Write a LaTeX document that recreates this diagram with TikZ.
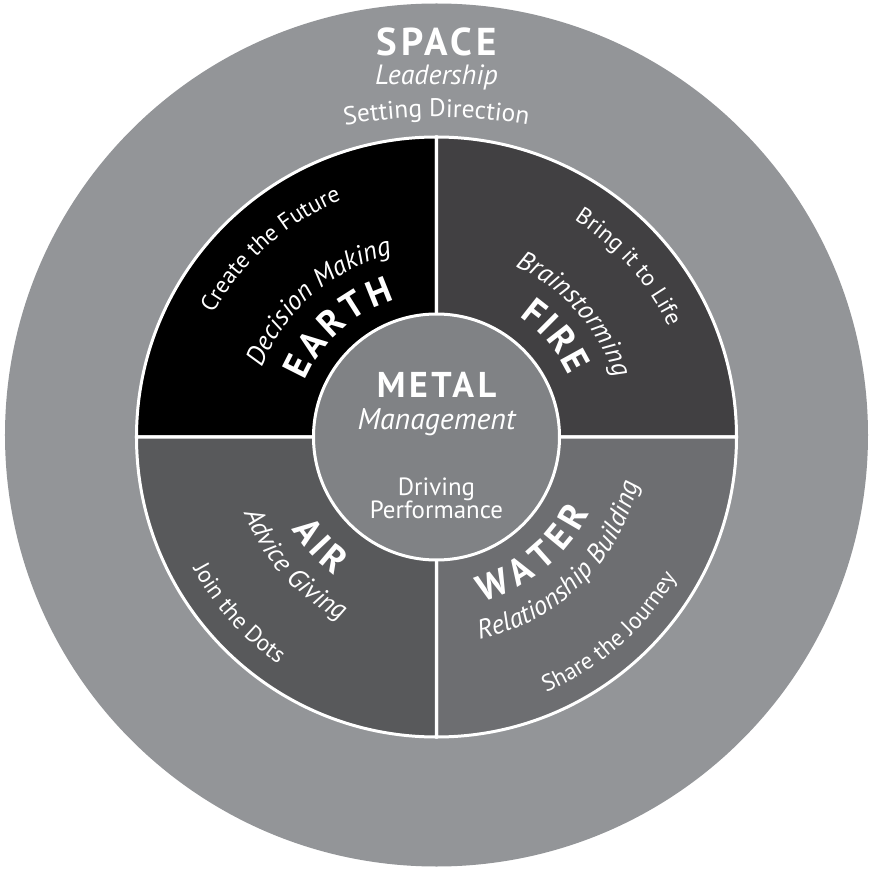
\documentclass[tikz,border=0pt]{standalone}
\usepackage{fontspec}
\setmainfont{PT Sans}
\usetikzlibrary{decorations.text}
\definecolor{spacegray}{HTML}{939598}
\definecolor{earthblk}{HTML}{000000}
\definecolor{firegray}{HTML}{414042}
\definecolor{airgray}{HTML}{58595B}
\definecolor{watergray}{HTML}{6D6E71}
\definecolor{metalgray}{HTML}{808285}
\newcommand\ttlfont{\fontsize{37}{37}\selectfont\bfseries}
\newcommand\subfont{\fontsize{27}{27}\selectfont\itshape}
\newcommand\tagfont{\fontsize{23.5}{23.5}\selectfont}
\begin{document}
\begin{tikzpicture}[x=1bp,y=1bp,
  ttl/.style={decorate,decoration={text along path,text color=white,text align={fit to path},text={|\ttlfont|#1}}},
  sub/.style={decorate,decoration={text along path,text color=white,text align=center,text={|\subfont|#1}}},
  tag/.style={decorate,decoration={text along path,text color=white,text align=center,text={|\tagfont|#1}}},
  lbl/.style={text=white,anchor=base,inner sep=0pt},
  sector/.style={draw=white,line width=3bp}]
\fill[white] (-436.5,-433) rectangle (434.5,437);
\useasboundingbox (-436.5,-433) rectangle (434.5,437);
\fill[spacegray] (0,2) circle[radius=431.5];
\filldraw[sector,fill=earthblk] (0,0) -- (180:300) arc[start angle=180,end angle=90,radius=300] -- cycle;
\filldraw[sector,fill=firegray] (0,0) -- (90:300) arc[start angle=90,end angle=0,radius=300] -- cycle;
\filldraw[sector,fill=watergray] (0,0) -- (0:300) arc[start angle=0,end angle=-90,radius=300] -- cycle;
\filldraw[sector,fill=airgray] (0,0) -- (270:300) arc[start angle=270,end angle=180,radius=300] -- cycle;
\filldraw[sector,fill=metalgray] (0,0) circle[radius=123];

\node[lbl] (space) at (0,381) {\fontsize{39}{39}\selectfont\bfseries\addfontfeature{LetterSpace=10}SPACE};
\node[lbl] (lead) at (0,352) {\fontsize{28}{28}\selectfont\itshape Leadership};
\path[decorate,decoration={text along path,text color=white,text align=center,text={|\fontsize{25.5}{25.5}\selectfont|Setting Direction}}] ([shift={(0,-200)}]108:520) arc[start angle=108,end angle=72,radius=520];

\node[lbl] (metal) at (0,39) {\fontsize{36}{36}\selectfont\bfseries\addfontfeature{LetterSpace=10}METAL};
\node[lbl] (mgmt) at (0,7) {\fontsize{30}{30}\selectfont\itshape Management};
\node[lbl] (drive) at (0,-58) {\fontsize{25}{25}\selectfont Driving};
\node[lbl] (perf) at (0,-81) {\fontsize{25}{25}\selectfont Performance};

\path[ttl=EARTH] (157:143) arc[start angle=157,end angle=107,radius=143];
\path[sub=Decision Making] (181:188) arc[start angle=181,end angle=81,radius=188];
\path[tag=Create the Future] (181.5:255) arc[start angle=181.5,end angle=81.5,radius=255];

\path[ttl=FIRE] (55.5:146) arc[start angle=55.5,end angle=25,radius=146];
\path[sub=Brainstorming] (91.8:188) arc[start angle=91.8,end angle=-8.2,radius=188];
\path[tag=Bring it to Life] (91.5:257) arc[start angle=91.5,end angle=-8.5,radius=257];

\path[ttl=AIR] (212.5:172) arc[start angle=212.5,end angle=233.5,radius=172];
\path[sub=Advice Giving] (172:207) arc[start angle=172,end angle=272,radius=207];
\path[tag=Join the Dots] (171.8:277) arc[start angle=171.8,end angle=271.8,radius=277];

\path[ttl=WATER] (285.5:171) arc[start angle=285.5,end angle=333.5,radius=171];
\path[sub=Relationship Building] (264.5:207) arc[start angle=264.5,end angle=364.5,radius=207];
\path[tag=Share the Journey] (261.5:278) arc[start angle=261.5,end angle=361.5,radius=278];
\end{tikzpicture}
\end{document}
